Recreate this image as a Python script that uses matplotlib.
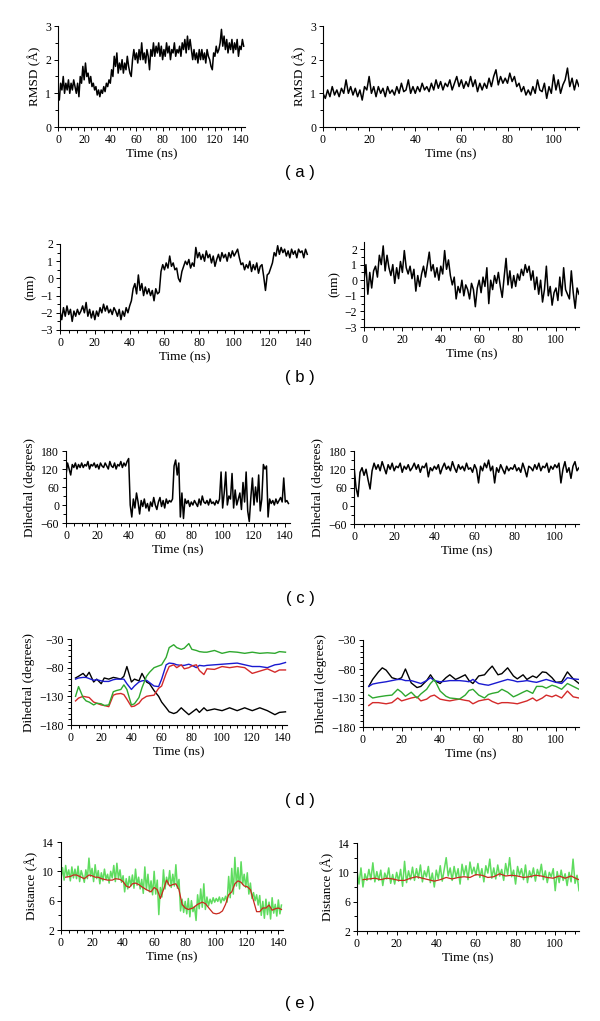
import numpy as np
import matplotlib.pyplot as plt
from matplotlib.ticker import MultipleLocator, FixedLocator

plt.rcParams['font.family'] = ['Liberation Serif', 'DejaVu Serif']

# ---- data ----
# (a) RMSD, sampled every 1 ns
rmsd_left = [1.0, 0.8, 1.3, 1.1, 1.5, 1.0, 1.3, 1.1, 1.4, 1.0,
             1.3, 1.1, 1.4, 1.2, 1.0, 1.3, 0.9, 1.5, 1.3, 1.8,
             1.4, 1.9, 1.5, 1.6, 1.3, 1.5, 1.2, 1.3, 1.1, 1.2,
             0.95, 1.1, 0.9, 1.1, 1.0, 1.2, 1.05, 1.3, 1.2, 1.4,
             1.3, 1.7, 1.5, 2.1, 1.8, 2.2, 1.6, 1.9, 1.7, 2.0,
             1.6, 1.9, 1.7, 2.1, 1.8, 1.6, 1.5, 2.0, 2.3, 2.0,
             2.2, 1.9, 2.3, 2.0, 2.5, 2.0, 2.2, 1.9, 2.3, 2.1,
             1.7, 2.3, 2.1, 2.5, 2.1, 2.4, 2.2, 2.5, 2.1, 2.4,
             2.0, 2.3, 2.1, 2.5, 2.2, 2.4, 2.0, 2.3, 2.2, 2.5,
             2.1, 2.3, 2.2, 2.4, 2.1, 2.5, 2.3, 2.6, 2.2, 2.7,
             2.3, 2.6, 2.3, 2.0, 2.3, 2.0, 2.2, 1.9, 2.3, 2.0,
             2.3, 2.0, 2.2, 1.9, 2.3, 2.1, 2.0, 1.8, 1.7, 2.2,
             2.1, 2.4, 2.2, 2.3, 2.5, 2.9, 2.4, 2.7, 2.3, 2.6,
             2.2, 2.5, 2.3, 2.6, 2.2, 2.5, 2.3, 2.6, 2.1, 2.4,
             2.3, 2.6, 2.4]
rmsd_right = [1.0, 0.85, 1.1, 0.9, 1.2, 0.95, 1.1, 0.9, 1.15, 1.0,
              1.4, 1.0, 1.2, 0.95, 1.15, 0.9, 1.1, 0.8, 1.2, 1.1,
              1.5, 1.0, 1.2, 0.9, 1.2, 1.0, 1.15, 0.9, 1.2, 1.0,
              1.1, 0.95, 1.2, 1.0, 1.3, 1.05, 1.1, 1.4, 1.0, 1.2,
              1.0, 1.2, 1.05, 1.3, 1.1, 1.2, 1.05, 1.3, 1.1, 1.4,
              1.15, 1.35, 1.1, 1.3, 1.2, 1.4, 1.1, 1.3, 1.5, 1.2,
              1.4, 1.15, 1.35, 1.2, 1.5, 1.2, 1.4, 1.05, 1.3, 1.1,
              1.3, 1.15, 1.45, 1.2, 1.5, 1.7, 1.25, 1.5, 1.3, 1.45,
              1.3, 1.6, 1.35, 1.5, 1.2, 1.3, 1.05, 1.2, 0.95, 1.1,
              0.95, 1.2, 1.0, 1.4, 1.1, 1.05, 1.3, 0.85, 1.2, 1.0,
              1.55, 1.1, 1.4, 1.0, 1.25, 1.4, 1.75, 1.2, 1.45, 1.1,
              1.4, 1.2, 1.3]

# (b) distance (nm)
nm_left = [-1.9, -2.4, -1.7, -2.2, -1.6, -2.1, -1.8, -2.5, -1.9, -2.2,
           -1.8, -2.1, -1.9, -1.6, -2.0, -1.4, -2.2, -1.8, -2.3, -1.9,
           -2.4, -1.9, -2.2, -1.7, -2.0, -1.5, -1.9, -1.6, -2.0, -1.8,
           -2.1, -1.7, -1.9, -2.2, -1.8, -2.4, -1.9, -2.2, -1.7, -2.0,
           -1.6, -1.3, -0.6, -0.3, -0.9, 0.2, -0.7, -0.3, -1.0, -0.5,
           -0.9, -0.6, -1.0, -0.7, -1.3, -0.6, -0.9, -0.8, 0.4, 0.8,
           0.5, 0.9, 0.6, 1.3, 0.7, 0.9, 0.5, 0.6, 0.0, -0.2,
           0.4, 0.7, 1.0, 0.8, 1.1, 0.6, 0.9, 0.7, 1.8, 1.2,
           1.5, 1.1, 1.4, 1.0, 1.6, 1.2, 1.4, 0.9, 1.3, 0.7,
           1.1, 1.4, 1.0, 1.5, 1.2, 1.4, 1.0, 1.5, 1.2, 1.6,
           1.3, 1.5, 1.7, 1.2, 0.8, 0.9, 0.5, 0.8, 0.6, 1.0,
           0.4, 0.8, 0.5, 0.9, 0.3, 0.7, 0.8, 0.1, -0.7, 0.2,
           0.3, 0.6, 0.9, 1.5, 1.3, 1.9, 1.4, 1.8, 1.5, 1.7,
           1.3, 1.6, 1.2, 1.7, 1.4, 1.6, 1.2, 1.7, 1.5, 1.6,
           1.2, 1.7, 1.4]
nm_right = [0.0, 1.0, -0.9, 0.5, -0.5, 0.6, 0.9, 0.2, 1.6, 1.0,
            2.2, 0.6, 1.6, 0.8, 0.3, 1.0, -0.2, 0.8, 0.1, 1.2,
            0.5, 1.9, 0.8, 0.4, 0.9, 0.1, 0.7, -0.7, 0.3, -0.4,
            0.4, 0.9, 0.2, 1.0, 1.8, 0.6, 1.0, 0.2, 0.8, 0.0,
            0.9, 0.4, 1.9, 0.7, 1.3, 0.3, -0.3, 0.2, -1.2, -0.4,
            -0.8, 0.0, -1.0, -0.3, -0.6, -1.2, -0.2, -0.6, -1.7, -0.5,
            0.0, -0.8, 0.2, -0.4, 0.8, -1.5, 0.0, -0.6, 0.3, -0.2,
            0.5, -0.4, -1.1, 0.2, 1.4, -0.3, 0.6, -0.5, 0.3, -0.4,
            0.4, 0.0, 0.7, 0.3, 1.0, 0.5, 0.9, 0.0, 0.6, -0.6,
            0.2, -0.9, 0.0, -1.4, -0.6, 0.9, -1.0, -0.4, -1.6, -0.8,
            -0.5, -1.3, 0.2, -1.0, 0.8, -0.6, -0.9, -1.2, 0.6, -0.8,
            -1.8, -0.5, -0.9]

# (c) dihedral
dih_left = [100, 140, 120, 100, 135, 125, 140, 120, 135, 125,
            140, 125, 135, 130, 145, 120, 135, 130, 140, 125,
            135, 120, 140, 130, 125, 140, 130, 120, 145, 130,
            125, 140, 120, 135, 130, 145, 125, 140, 130, 145,
            155, 0, -40, 20, -10, 40, 10, -30, 15, -5,
            20, -10, 5, -20, 10, -5, 25, 0, -15, 10,
            25, -5, 15, -10, 20, 5, 15, 10, 20, 130,
            150, 100, 140, -40, 40, -45, 20, 5, 15, -5,
            10, 0, 15, 5, -5, 20, 0, 30, 10, 5,
            15, 0, 20, 5, 10, 0, 15, 5, 20, 110,
            -10, 40, 110, 0, 30, 20, 105, -10, 50, 0,
            20, 40, -15, 75, 10, 110, -20, -55, 25, 90,
            0, 60, 10, 100, -20, 20, 135, 120, 130, -40,
            20, 5, 15, 0, 20, 5, 15, 25, 10, 90,
            10, 15, 5]
dih_right = [130, 60, 30, 110, 125, 100, 120, 85, 55, 115,
             140, 120, 135, 115, 145, 125, 105, 135, 120, 140,
             115, 130, 125, 140, 110, 130, 120, 135, 115, 125,
             140, 120, 135, 110, 130, 125, 140, 95, 125, 115,
             130, 120, 135, 105, 125, 140, 120, 130, 115, 145,
             125, 110, 135, 120, 130, 115, 140, 120, 125, 110,
             135, 120, 75, 130, 115, 140, 125, 150, 115, 130,
             75, 125, 110, 135, 120, 105, 130, 115, 125, 120,
             135, 115, 125, 110, 140, 120, 95, 130, 125, 115,
             135, 120, 140, 115, 130, 125, 140, 110, 130, 120,
             135, 125, 140, 75, 120, 145, 110, 125, 90, 130,
             145, 115, 125]

# (d) four dihedrals (black, blue, red, green)
d_t_left = [3, 5, 8, 10, 12, 15, 17, 20, 22, 25, 28, 30, 33, 35, 37, 40, 42, 45, 47, 50,
            52, 55, 58, 60, 63, 65, 68, 70, 73, 75, 78, 80, 83, 85, 88, 90, 95, 100, 105, 110,
            115, 120, 125, 130, 135, 138, 142]
d_black_left = [-98, -95, -90, -96, -88, -105, -100, -108, -98, -100, -97, -98, -100, -95, -78, -105, -100, -103, -90, -105,
                -108, -120, -130, -140, -150, -157, -160, -158, -150, -155, -162, -158, -152, -158, -150, -155, -152, -155, -150, -155,
                -150, -155, -150, -155, -162, -158, -157]
d_blue_left = [-100, -98, -97, -97, -99, -102, -101, -103, -104, -104, -101, -100, -100, -100, -108, -118, -112, -105, -103, -102,
               -106, -112, -113, -100, -75, -72, -73, -75, -76, -76, -74, -76, -80, -76, -77, -76, -75, -74, -73, -72,
               -75, -78, -78, -80, -75, -74, -71]
d_red_left = [-138, -133, -130, -131, -132, -140, -142, -145, -146, -148, -128, -126, -125, -127, -135, -148, -147, -142, -135, -130,
              -129, -128, -116, -112, -90, -78, -75, -80, -75, -82, -80, -77, -75, -85, -92, -82, -83, -78, -80, -78,
              -80, -90, -86, -82, -88, -84, -84]
d_green_left = [-130, -113, -132, -138, -140, -145, -142, -143, -146, -145, -122, -120, -118, -110, -118, -145, -143, -132, -115, -95,
                -88, -80, -77, -75, -62, -45, -40, -45, -48, -46, -38, -48, -50, -52, -53, -53, -50, -55, -52, -53,
                -55, -53, -55, -54, -55, -52, -53]

d_t_right = [3, 5, 8, 10, 12, 15, 18, 20, 22, 25, 28, 30, 33, 35, 37, 40, 43, 45, 48, 50,
             53, 55, 57, 60, 63, 65, 67, 70, 72, 75, 78, 80, 83, 85, 88, 90, 93, 95, 98, 100,
             103, 106, 109, 112]
d_black_right = [-110, -98, -85, -78, -82, -95, -98, -95, -80, -104, -112, -110, -100, -90, -100, -105, -95, -90, -98, -95,
                 -90, -100, -105, -92, -90, -82, -75, -90, -88, -78, -92, -97, -90, -98, -92, -95, -85, -86, -95, -103,
                 -102, -85, -97, -105]
d_blue_right = [-110, -106, -104, -103, -102, -100, -98, -98, -100, -100, -103, -105, -100, -95, -100, -102, -101, -100, -100, -100,
                -101, -102, -98, -105, -107, -108, -106, -103, -101, -98, -100, -102, -101, -100, -102, -103, -100, -98, -101, -103,
                -105, -95, -97, -98]
d_red_right = [-143, -138, -138, -139, -140, -138, -130, -135, -133, -130, -128, -135, -132, -127, -125, -132, -134, -135, -133, -132,
               -134, -135, -140, -135, -133, -132, -136, -140, -138, -138, -139, -140, -137, -135, -130, -135, -130, -125, -128, -125,
               -130, -118, -128, -130]
d_green_right = [-125, -130, -128, -127, -126, -125, -115, -120, -127, -120, -130, -123, -115, -105, -98, -118, -127, -130, -131, -132,
                 -125, -117, -115, -125, -130, -124, -122, -120, -115, -120, -128, -125, -120, -117, -122, -110, -110, -113, -108, -110,
                 -115, -105, -110, -115]

# (e) distance (A): raw (green) and running average (red)
dist_left = [9.0, 10.5, 8.8, 10.8, 9.3, 10.2, 8.7, 10.6, 9.1, 10.3,
             9.0, 10.7, 8.6, 10.1, 9.4, 8.5, 10.2, 9.0, 11.8, 9.3,
             10.4, 8.6, 10.9, 9.0, 10.1, 8.3, 9.8, 8.7, 10.3, 8.9,
             9.6, 8.4, 10.0, 9.1, 10.8, 8.6, 11.1, 9.0, 10.2, 8.5,
             9.4, 7.2, 9.0, 7.6, 9.3, 8.0, 9.5, 7.7, 10.3, 8.1,
             9.2, 7.6, 8.9, 7.0, 10.6, 7.5, 9.6, 7.2, 8.7, 6.8,
             10.0, 6.9, 8.8, 4.1, 7.8, 6.5, 10.2, 7.6, 9.2, 8.2,
             10.1, 7.8, 9.6, 8.0, 10.9, 7.7, 8.9, 4.6, 6.2, 4.4,
             5.9, 4.2, 6.3, 3.8, 6.0, 4.5, 5.2, 3.3, 6.8, 4.9,
             7.6, 5.1, 8.3, 4.8, 6.5, 5.3, 6.2, 5.6, 6.4, 5.8,
             6.3, 5.9, 6.5, 5.7, 6.4, 6.0, 6.6, 5.8, 9.3, 6.4,
             10.4, 6.9, 11.9, 8.0, 10.5, 7.6, 11.3, 8.2, 9.6, 7.8,
             9.8, 6.9, 8.4, 6.3, 7.1, 6.0, 6.8, 5.4, 6.7, 4.0,
             5.9, 3.6, 6.2, 4.1, 5.8, 3.5, 6.4, 4.3, 5.5, 3.9,
             6.1, 4.2, 5.4]
dist_right = [10.2, 8.4, 10.6, 8.0, 9.8, 8.9, 10.4, 9.0, 11.3, 8.7,
              10.1, 8.9, 10.3, 8.2, 9.9, 9.1, 10.6, 8.5, 9.7, 8.4,
              10.0, 8.8, 10.4, 8.1, 11.5, 8.6, 10.2, 9.0, 10.7, 8.9,
              10.5, 9.2, 11.0, 8.7, 10.2, 9.4, 10.8, 8.6, 9.9, 8.0,
              10.3, 9.1, 10.9, 8.8, 10.4, 12.0, 9.5, 10.6, 8.9, 10.8,
              9.3, 10.5, 8.4, 11.1, 9.6, 10.9, 9.0, 11.4, 9.8, 10.7,
              9.6, 11.2, 9.3, 10.5, 8.7, 10.9, 9.9, 11.8, 9.2, 10.6,
              9.1, 11.0, 9.5, 10.4, 8.9, 11.2, 9.7, 12.0, 9.4, 10.3,
              8.4, 10.8, 9.6, 10.5, 9.0, 11.0, 8.6, 10.2, 9.3, 10.6,
              8.8, 10.4, 9.5, 11.1, 9.0, 10.2, 8.6, 10.0, 9.4, 10.5,
              7.5, 10.1, 8.6, 10.3, 8.9, 9.8, 8.2, 10.0, 8.7, 11.8,
              8.5, 9.6, 7.5]
avg_t_left = [3, 6, 8, 10, 12, 15, 18, 20, 22, 24, 26, 28, 30, 33, 35, 38, 40, 42, 44, 46,
              48, 50, 52, 55, 58, 60, 62, 64, 66, 68, 70, 72, 74, 76, 78, 80, 82, 85, 88, 91,
              93, 96, 98, 100, 102, 104, 106, 108, 110, 112, 114, 116, 118, 120, 122, 124, 126, 128, 130, 132,
              134, 136, 138, 140, 142]
avg_left = [9.2, 9.3, 9.5, 9.5, 9.3, 9.0, 9.5, 9.4, 9.2, 9.2, 9.0, 8.9, 8.8, 8.8, 9.0, 8.9, 8.6, 8.0, 7.8, 8.3,
            8.4, 8.2, 7.9, 7.5, 7.2, 7.8, 7.5, 6.3, 7.5, 8.8, 8.0, 8.2, 8.3, 7.5, 5.5, 5.0, 4.8, 5.0, 5.5, 5.8,
            5.6, 4.8, 4.3, 4.2, 4.3, 4.6, 5.5, 6.8, 7.2, 8.3, 8.7, 8.5, 8.0, 7.9, 7.5, 6.0, 4.5, 4.5, 5.0, 5.0,
            5.4, 4.7, 4.9, 5.0, 4.8]
avg_t_right = [3, 6, 9, 12, 15, 18, 21, 24, 27, 30, 33, 36, 39, 42, 45, 48, 51, 54, 57, 60,
               63, 66, 69, 72, 75, 78, 81, 84, 87, 90, 93, 96, 99, 102, 105, 108, 111, 112]
avg_right = [9.0, 9.1, 9.2, 9.0, 9.2, 9.1, 8.9, 8.9, 9.2, 9.4, 9.2, 9.0, 8.8, 9.0, 9.3, 9.1, 9.3, 9.4, 9.3, 9.7,
             9.6, 9.3, 9.4, 9.8, 9.5, 9.6, 9.5, 9.3, 9.4, 9.6, 9.5, 9.3, 9.2, 9.5, 9.2, 9.5, 9.1, 9.0]

t_left = np.arange(len(rmsd_left))
t_right = np.arange(len(rmsd_right))

W, H = 600, 1021
fig = plt.figure(figsize=(6, 10.21), dpi=100)


def box(l, t, r, b):
    return [l / W, 1 - b / H, (r - l) / W, (b - t) / H]


def setup(ax, xmax, ylim, yticks, ystep, ylabel):
    ax.set_xlim(0, xmax)
    ax.set_ylim(*ylim)
    ax.xaxis.set_major_locator(MultipleLocator(20))
    ax.xaxis.set_minor_locator(MultipleLocator(5))
    ax.yaxis.set_major_locator(FixedLocator(yticks))
    ax.yaxis.set_minor_locator(FixedLocator(np.arange(yticks[0], ylim[1] + 1e-6, ystep)))
    for s in ['top', 'right']:
        ax.spines[s].set_visible(False)
    for s in ['left', 'bottom']:
        ax.spines[s].set_linewidth(0.8)
    ax.tick_params(which='both', direction='out', width=0.7, labelsize=8.5, pad=2)
    ax.tick_params(which='major', length=3)
    ax.tick_params(which='minor', length=2.5)
    ax.set_xlabel('Time (ns)', fontsize=9.5, labelpad=2)
    ax.set_ylabel(ylabel, fontsize=9.5, labelpad=3)


lw_noisy = 1.1

# (a)
ax = fig.add_axes(box(58, 26, 245, 127))
ax.plot(t_left, rmsd_left, color='black', lw=lw_noisy)
setup(ax, 143, (0, 3), [0, 1, 2, 3], 0.5, 'RMSD (Å)')
ax = fig.add_axes(box(323, 26, 579, 127))
ax.plot(t_right, rmsd_right, color='black', lw=lw_noisy)
setup(ax, 111, (0, 3), [0, 1, 2, 3], 0.5, 'RMSD (Å)')

# (b)
ax = fig.add_axes(box(60, 244, 309, 330))
ax.plot(t_left, nm_left, color='black', lw=lw_noisy)
setup(ax, 143, (-3, 2), [-3, -2, -1, 0, 1, 2], 0.5, '(nm)')
ax = fig.add_axes(box(364, 242, 579, 327))
ax.plot(t_right, nm_right, color='black', lw=lw_noisy)
setup(ax, 112, (-3, 2.45), [-3, -2, -1, 0, 1, 2], 0.5, '(nm)')

# (c)
ax = fig.add_axes(box(66, 451, 290, 523))
ax.plot(t_left, dih_left, color='black', lw=lw_noisy)
setup(ax, 143, (-60, 180), [-60, 0, 60, 120, 180], 30, 'Dihedral (degrees)')
ax = fig.add_axes(box(354, 451, 579, 524))
ax.plot(t_right, dih_right, color='black', lw=lw_noisy)
setup(ax, 112, (-60, 180), [-60, 0, 60, 120, 180], 30, 'Dihedral (degrees)')

# (d)
cols = ['black', '#1a1ad0', '#d42a2a', '#2ea82e']
d_ticks = [-180, -130, -80, -30]
ax = fig.add_axes(box(71, 639, 287, 725))
for ys, c in zip([d_black_left, d_blue_left, d_red_left, d_green_left], cols):
    ax.plot(d_t_left, ys, color=c, lw=1.0)
setup(ax, 143, (-180, -30), d_ticks, 10, 'Dihedral (degrees)')
ax = fig.add_axes(box(363, 640, 579, 727))
for ys, c in zip([d_black_right, d_blue_right, d_red_right, d_green_right], cols):
    ax.plot(d_t_right, ys, color=c, lw=1.0)
setup(ax, 112, (-180, -30), d_ticks, 10, 'Dihedral (degrees)')

# (e)
e_ticks = [2, 6, 10, 14]
ax = fig.add_axes(box(61, 842, 283, 930))
ax.plot(t_left, dist_left, color='#5fdc5f', lw=lw_noisy)
ax.plot(avg_t_left, avg_left, color='#c8281e', lw=0.9)
setup(ax, 143, (2, 14), e_ticks, 2, 'Distance (Å)')
ax = fig.add_axes(box(357, 843, 579, 931))
ax.plot(t_right, dist_right, color='#5fdc5f', lw=lw_noisy)
ax.plot(avg_t_right, avg_right, color='#c8281e', lw=0.9)
setup(ax, 112, (2, 14), e_ticks, 2, 'Distance (Å)')

# panel captions
for lab, y in zip(['( a )', '( b )', '( c )', '( d )', '( e )'], [172, 377, 598, 800, 1003]):
    fig.text(0.5, 1 - y / H, lab, ha='center', va='center', fontsize=12,
             family=['Liberation Sans', 'DejaVu Sans'])

fig.savefig('out.png', dpi=100)
